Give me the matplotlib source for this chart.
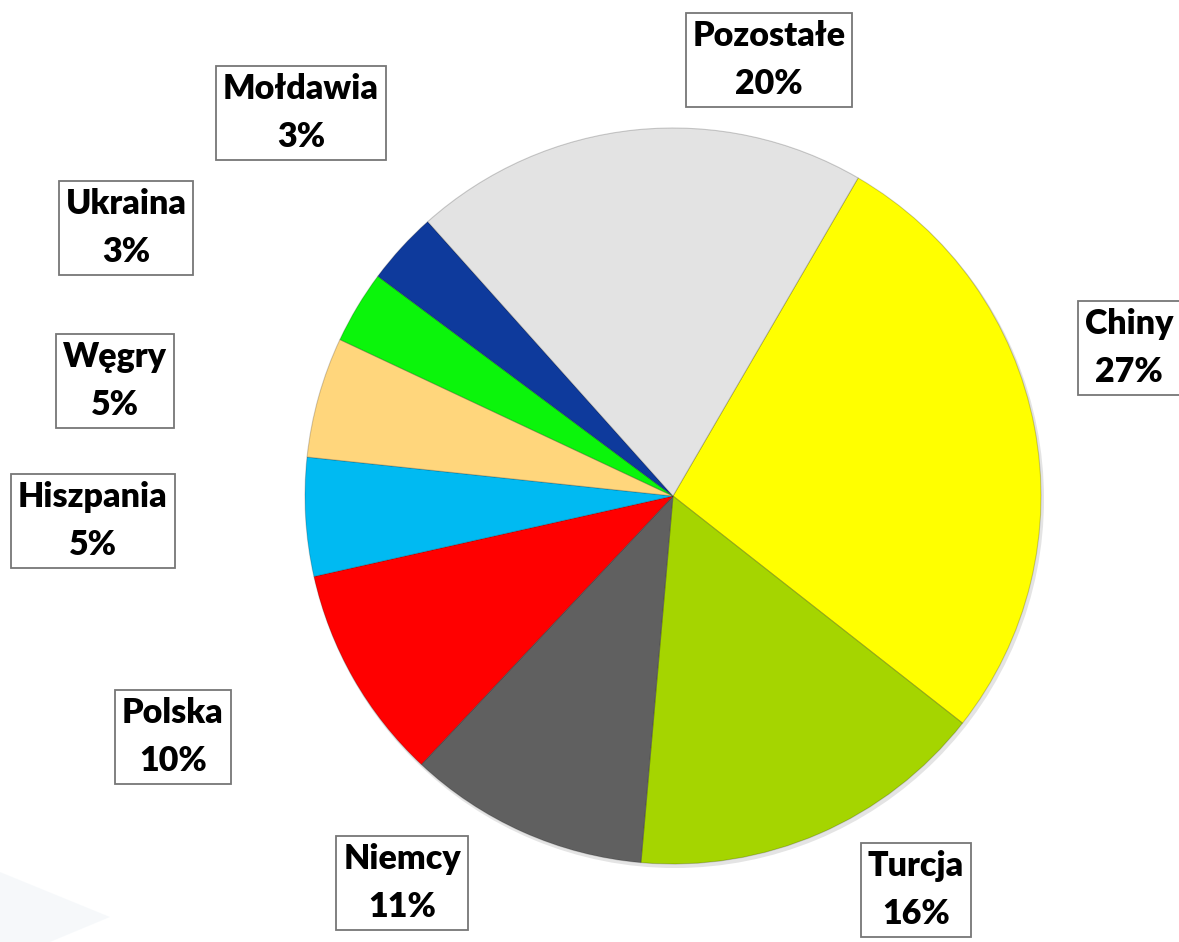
import matplotlib
matplotlib.use("Agg")
import matplotlib.pyplot as plt
from matplotlib.patches import Polygon

# ---- data ----
categories = ['Chiny', 'Turcja', 'Niemcy', 'Polska', 'Hiszpania', 'Węgry', 'Ukraina', 'Mołdawia', 'Pozostałe']
values = [27.2, 15.8, 10.6, 9.5, 5.2, 5.3, 3.2, 3.2, 20.0]
pct_labels = ['27%', '16%', '11%', '10%', '5%', '5%', '3%', '3%', '20%']
colors = ['#FFFF00', '#A5D500', '#606060', '#FF0000', '#00BAF2', '#FFD67C', '#0BF50B', '#0E3A9C', '#E3E3E3']

# ---- layout (pixel coordinates, y from top) ----
W, H = 1179, 942
center_px = (673, 496)
radius_px = 368
label_centers_px = [(1129, 348), (916, 890), (402, 883), (173, 737), (93, 521),
                    (115, 381), (126, 228), (301, 113), (769, 60)]

plt.rcParams['font.family'] = ['Lato', 'DejaVu Sans']

fig = plt.figure(figsize=(W / 100, H / 100), dpi=100)
ax = fig.add_axes([0, 0, 1, 1])

# faint background swoosh (bottom-left)
ax.add_patch(Polygon([(0, 0), (0, 70), (110, 25), (50, 0)], closed=True,
                     facecolor='#EEF3F7', edgecolor='none', alpha=0.5, zorder=0))

cx, cy = center_px[0], H - center_px[1]

# soft shadow
ax.pie([1], radius=radius_px + 1, center=(cx + 2, cy - 3), colors=['#E4E4E4'],
       wedgeprops=dict(linewidth=0), frame=True)

wedges, _ = ax.pie(values, radius=radius_px, center=(cx, cy), colors=colors,
                   startangle=59.8, counterclock=False, frame=True,
                   wedgeprops=dict(linewidth=0.8, edgecolor='#00000030'))

ax.set_xlim(0, W)
ax.set_ylim(0, H)
ax.set_aspect('equal')
ax.axis('off')

for name, pct, (lx, ly) in zip(categories, pct_labels, label_centers_px):
    ax.text(lx, H - ly, f"{name}\n{pct}", ha='center', va='center',
            fontsize=24.5, fontweight='heavy', color='black', linespacing=1.6,
            bbox=dict(boxstyle='square,pad=0.2', facecolor='white',
                      edgecolor='#767676', linewidth=1.3),
            zorder=5)

fig.savefig('out.png', dpi=100, facecolor='white')
